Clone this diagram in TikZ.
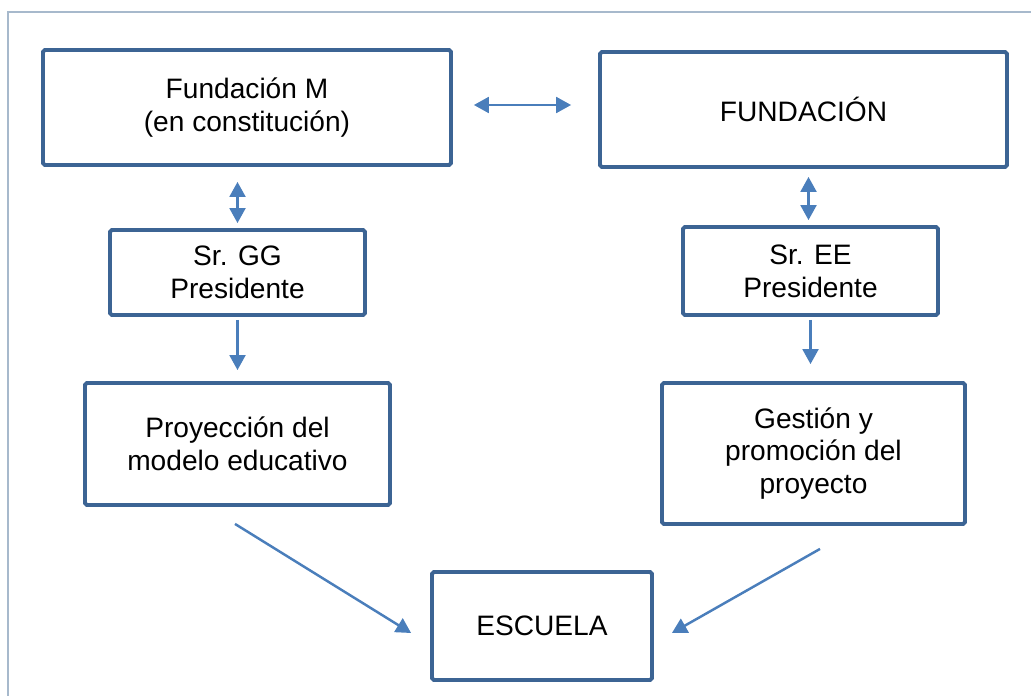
\documentclass[tikz,border=0pt]{standalone}
\usepackage{fontspec}
\setmainfont{Liberation Sans}
\usetikzlibrary{calc,arrows.meta}
\definecolor{boxblue}{HTML}{3C6494}
\definecolor{arrblue}{HTML}{4A7EBB}
\definecolor{framegray}{HTML}{A7B9CC}

\begin{document}
\begin{tikzpicture}[x=0.02cm,y=-0.02cm,
    box/.style={draw=boxblue,line width=2.2pt,rounded corners=1pt,align=center,
      font=\fontsize{16}{18.7}\selectfont,inner sep=0pt},
    link/.style={draw=arrblue,line width=1.4pt,-{Triangle[length=8.5pt,width=9pt]}},
    both/.style={link,{Triangle[length=8.5pt,width=9pt]}-{Triangle[length=8.5pt,width=9pt]}}]
  \useasboundingbox (0,0) rectangle (1031,696);
  \draw[framegray,line width=1pt] (8,696) -- (8,12) -- (1031,12);

  % boxes
  \node[box,minimum width=8.16cm,minimum height=2.3cm] (FM) at (247,107.5)
    {Fundación M\\(en constitución)};
  \node[box,minimum width=8.14cm,minimum height=2.3cm] (FUND) at (803.5,109.5)
    {FUNDACIÓN};
  \node[box,minimum width=5.1cm,minimum height=1.7cm] (GG) at (237.5,272.5)
    {Sr. GG\\Presidente};
  \node[box,minimum width=5.1cm,minimum height=1.76cm] (EE) at (810.5,271)
    {Sr. EE\\Presidente};
  \node[box,minimum width=6.1cm,minimum height=2.44cm] (PROY) at (237.5,444)
    {Proyección del\\modelo educativo};
  \node[box,minimum width=6.06cm,minimum height=2.82cm] (GEST) at (813.5,453.5)
    {Gestión y\\promoción del\\proyecto};
  \node[box,minimum width=4.4cm,minimum height=2.16cm] (ESC) at (542,626)
    {ESCUELA};

  % links
  \draw[both] ($(FM.east)+(21,-2.5)$) -- ($(FUND.west)+(-27,-4.5)$);
  \draw[both] ($(GG.north |- FM.south)+(0,15)$) -- ($(GG.north)+(0,-5)$);
  \draw[both] ($(EE.north |- FUND.south)+(-2,8)$) -- ($(EE.north)+(-2,-5)$);
  \draw[link] ($(GG.south)+(0,3)$) -- ($(GG.south |- PROY.north)+(0,-11)$);
  \draw[link] ($(EE.south)+(0,3)$) -- ($(EE.south |- GEST.north)+(0,-17)$);
  \draw[link] ($(PROY.south)+(-2.5,17)$) -- ($(ESC.west)+(-19,7)$);
  \draw[link] ($(GEST.south)+(6.5,23)$) -- ($(ESC.east)+(18,7)$);
\end{tikzpicture}
\end{document}
